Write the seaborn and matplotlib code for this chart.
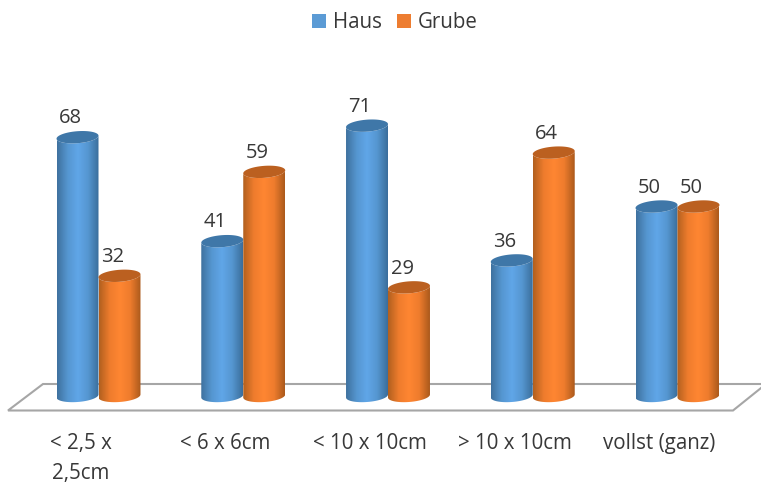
import numpy as np
import pandas as pd
import matplotlib
matplotlib.use("Agg")
import matplotlib.pyplot as plt
import seaborn as sns
from matplotlib.colors import LinearSegmentedColormap
from matplotlib.patches import Polygon, Patch
from matplotlib.path import Path
from matplotlib.transforms import ScaledTranslation

categories = ["< 2,5 x\n2,5cm", "< 6 x 6cm", "< 10 x 10cm", "> 10 x 10cm", "vollst (ganz)"]
haus = [68, 41, 71, 36, 50]
grube = [32, 59, 29, 64, 50]
series_names = ["Haus", "Grube"]

W, H = 761, 486
PX_PER_UNIT = 3.85
BASE_PX = 399
AXES_BOTTOM_PX = 420
TEXT = "#383838"

sns.set_theme(style="white")
plt.rcParams["font.family"] = ["Open Sans", "DejaVu Sans"]

df = pd.DataFrame({
    "cat": categories * 2,
    "val": haus + grube,
    "series": [series_names[0]] * 5 + [series_names[1]] * 5,
})

fig = plt.figure(figsize=(W / 100, H / 100), dpi=100)
ax = fig.add_axes([0, (H - AXES_BOTTOM_PX) / H, 1, AXES_BOTTOM_PX / H])
sns.barplot(data=df, x="cat", y="val", hue="series", hue_order=series_names,
            palette=["#5B9BD5", "#ED7D31"], width=0.58, gap=0, legend=False, ax=ax)

xlim = (-98.5 / 144.75, (W - 98.5) / 144.75)
ylim = ((BASE_PX - AXES_BOTTOM_PX) / PX_PER_UNIT, BASE_PX / PX_PER_UNIT)

# floor of the 3d chart, in figure pixels
floor_px = [(8, 410.5), (733, 410.5), (766, 384), (43, 384)]
floor = Polygon([(x / W, 1 - y / H) for x, y in floor_px], closed=True, transform=fig.transFigure,
                facecolor="white", edgecolor="#A6A6A6", lw=1.5, clip_on=False, zorder=0.5)
ax.add_patch(floor)

grad_blue = LinearSegmentedColormap.from_list("b", ["#3F729F", "#5596D0", "#60A6E8", "#5596D0", "#3B6E9C"])
grad_orange = LinearSegmentedColormap.from_list("o", ["#B2601F", "#EE7C2D", "#FF8632", "#EE7C2D", "#AC5A1C"])
caps = ["#3F77A8", "#BB6020"]
ramp = np.linspace(0, 1, 64).reshape(1, -1)

cap_h = 6 / PX_PER_UNIT
tilt = 1.5 / PX_PER_UNIT
bottom = 3 / PX_PER_UNIT
z = 2
for container, cmap, cap in zip(ax.containers, [grad_blue, grad_orange], caps):
    for bar in container:
        bar.set_visible(False)
        x0, wd, val = bar.get_x(), bar.get_width(), bar.get_height()
        cx, a = x0 + wd / 2, wd / 2

        # body: left edge down, round the bottom, right edge up, back over the top
        t = np.linspace(np.pi, 2 * np.pi, 40)
        xb = cx + a * np.cos(t)
        yb = bottom + cap_h * np.sin(t) + tilt * np.cos(t)
        xt = cx + a * np.cos(t[::-1])
        yt = val + cap_h * np.sin(t[::-1]) + tilt * np.cos(t[::-1])
        body = Path(np.column_stack([np.r_[xb, xt, xb[0]], np.r_[yb, yt, yb[0]]]), closed=False)
        im = ax.imshow(ramp, cmap=cmap, extent=(x0, x0 + wd, -5, val + cap_h + 1), aspect="auto", zorder=z)
        im.set_clip_path(body, transform=ax.transData)

        # top cap
        t2 = np.linspace(0, 2 * np.pi, 80)
        ax.fill(cx + a * np.cos(t2), val + cap_h * np.sin(t2) + tilt * np.cos(t2),
                color=cap, lw=0, zorder=z + 0.5)
        ax.annotate(f"{val:.0f}", xy=(cx, val), xytext=(-5, 13.5), textcoords="offset points",
                    ha="center", va="center", fontsize=14.5, color=TEXT, zorder=20)
        z += 1

ax.set_xlim(xlim)
ax.set_ylim(ylim)
ax.set_xlabel("")
ax.set_ylabel("")
ax.set_yticks([])
ax.patch.set_visible(False)
sns.despine(ax=ax, left=True, bottom=True)
ax.tick_params(axis="x", length=0, pad=9, labelsize=14.8, labelcolor=TEXT)

# labels sit left of the bars because of the perspective
shift = ScaledTranslation(-18 / 100, 0, fig.dpi_scale_trans)
for lab in ax.get_xticklabels():
    lab.set_transform(lab.get_transform() + shift)
    lab.set_linespacing(1.6)

handles = [Patch(facecolor=c, edgecolor="none") for c in ["#5B9BD5", "#ED7D31"]]
ax.legend(handles, series_names, loc="center", bbox_to_anchor=(395 / W, 1 - 23 / H),
          bbox_transform=fig.transFigure, ncol=2, frameon=False, fontsize=14.8, labelcolor=TEXT,
          handlelength=0.65, handleheight=0.65, handletextpad=0.35, columnspacing=0.77)

fig.savefig("out.png", dpi=100)
